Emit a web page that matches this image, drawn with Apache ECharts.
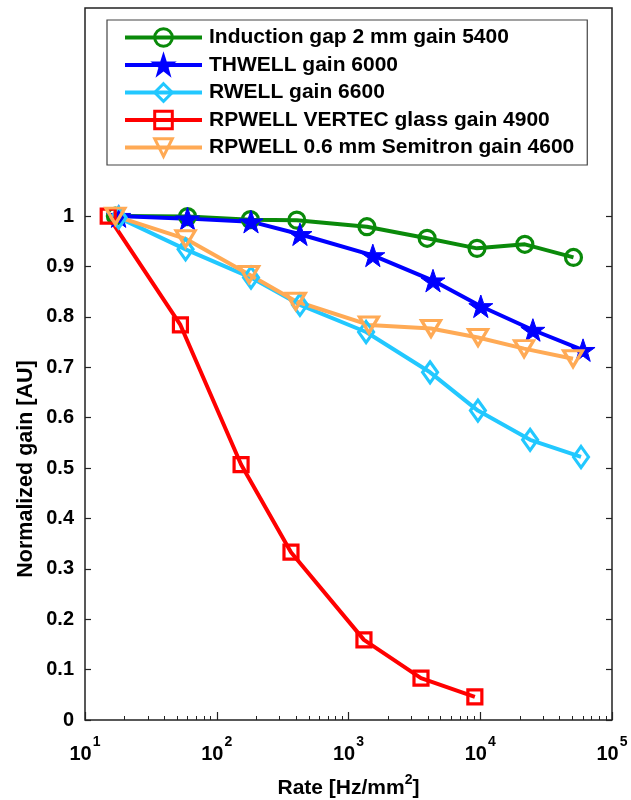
<!DOCTYPE html>
<html>
<head>
<meta charset="utf-8">
<script src="https://cdn.jsdelivr.net/npm/echarts@6/dist/echarts.min.js"></script>
<style>
html,body{margin:0;padding:0;background:#fff;}
#chart{width:631px;height:800px;}
</style>
</head>
<body>
<div id="chart"></div>
<script>
// ---- data ----
const seriesNames = [
  'Induction gap 2 mm gain 5400',
  'THWELL gain 6000',
  'RWELL gain 6600',
  'RPWELL VERTEC glass gain 4900',
  'RPWELL 0.6 mm Semitron gain 4600'
];
const rateInduction = [17, 60, 180, 405, 1380, 3950, 9450, 21800, 51000];
const gainInduction = [1.0, 0.999, 0.993, 0.992, 0.979, 0.956, 0.936, 0.944, 0.918];
const rateThwell = [18, 60, 182, 428, 1530, 4380, 10100, 25100, 60300];
const gainThwell = [1.0, 0.995, 0.989, 0.964, 0.922, 0.872, 0.821, 0.774, 0.734];
const rateRwell = [18, 58, 182, 428, 1360, 4160, 9600, 23900, 58200];
const gainRwell = [0.997, 0.934, 0.878, 0.824, 0.770, 0.690, 0.614, 0.556, 0.522];
const rateVertec = [15, 53, 153, 366, 1310, 3550, 9100];
const gainVertec = [1.0, 0.784, 0.507, 0.333, 0.159, 0.083, 0.046];
const rateSemitron = [17, 58, 176, 398, 1430, 4230, 9620, 21500, 50600];
const gainSemitron = [1.0, 0.955, 0.884, 0.831, 0.784, 0.777, 0.759, 0.737, 0.717];
const yTickValues = [0, 0.1, 0.2, 0.3, 0.4, 0.5, 0.6, 0.7, 0.8, 0.9, 1];
const xMinorTicks = [20,30,40,50,60,70,80,90,200,300,400,500,600,700,800,900,
  2000,3000,4000,5000,6000,7000,8000,9000,20000,30000,40000,50000,60000,70000,80000,90000];

const FONT = "'Liberation Sans', Arial, Helvetica, sans-serif";
const STAR = 'path://M50,0 L61.8,35.1 L98.9,35.1 L68.8,56.9 L79.4,91.9 L50,70.2 L20.6,91.9 L31.2,56.9 L1.1,35.1 L38.2,35.1 Z';

function pairs(xs, ys) { return xs.map((x, i) => [x, ys[i]]); }

const chart = echarts.init(document.getElementById('chart'), null, {renderer: 'canvas'});

function mk(name, xs, ys, color, symbol, size, filled, rotate) {
  return {
    name: name,
    type: 'line',
    data: pairs(xs, ys),
    symbol: symbol,
    symbolSize: size,
    symbolRotate: rotate || 0,
    symbolKeepAspect: true,
    showAllSymbol: true,
    lineStyle: {color: color, width: 4},
    itemStyle: filled
      ? {color: color, borderColor: color, borderWidth: 1}
      : {color: 'rgba(255,255,255,0)', borderColor: color, borderWidth: 3.2},
    emphasis: {disabled: true},
    z: 3
  };
}

const option = {
  animation: false,
  backgroundColor: '#fff',
  textStyle: {fontFamily: FONT},
  grid: {
    left: 85, right: 19, top: 8, bottom: 80,
    containLabel: false,
    outerBoundsMode: 'none',
    show: true, borderColor: '#222', borderWidth: 1.5, backgroundColor: 'rgba(0,0,0,0)'
  },
  legend: {
    orient: 'vertical',
    left: 107, top: 20,
    padding: [7, 13, 7, 16],
    itemWidth: 77, itemHeight: 22, itemGap: 6.5,
    backgroundColor: '#fff',
    borderColor: '#444', borderWidth: 1.2,
    selectedMode: false,
    lineStyle: {width: 4},
    itemStyle: {borderWidth: 3},
    textStyle: {fontSize: 21, fontWeight: 'bold', color: '#000', fontFamily: FONT, padding: [0, 0, 0, 2]},
    data: seriesNames
  },
  xAxis: [
    {
      type: 'log', logBase: 10, min: 10, max: 100000,
      position: 'bottom',
      axisLine: {show: false},
      axisTick: {show: true, inside: true, length: 8, lineStyle: {color: '#222', width: 1.2}},
      splitLine: {show: false},
      axisLabel: {
        margin: 22,
        formatter: function (v) {
          const e = Math.round(Math.log10(v));
          return '{b|10}{s|' + e + '}';
        },
        rich: {
          b: {fontSize: 20, fontWeight: 'bold', color: '#000', fontFamily: FONT, verticalAlign: 'bottom', lineHeight: 22},
          s: {fontSize: 14, fontWeight: 'bold', color: '#000', fontFamily: FONT, verticalAlign: 'bottom', lineHeight: 14, padding: [0, 0, 15, 1]}
        }
      },
      name: '{a|Rate [Hz/mm}{s|2}{a|]}',
      nameLocation: 'middle',
      nameGap: 55,
      nameTextStyle: {
        rich: {
          a: {fontSize: 21, fontWeight: 'bold', color: '#000', fontFamily: FONT, verticalAlign: 'bottom', lineHeight: 24},
          s: {fontSize: 14, fontWeight: 'bold', color: '#000', fontFamily: FONT, verticalAlign: 'bottom', lineHeight: 14, padding: [0, 0, 12, 0]}
        }
      }
    },
    {
      type: 'log', logBase: 10, min: 10, max: 100000,
      position: 'bottom',
      axisLine: {show: false},
      axisTick: {show: true, inside: true, length: 4, customValues: xMinorTicks, lineStyle: {color: '#222', width: 1}},
      axisLabel: {show: false},
      splitLine: {show: false}
    }
  ],
  yAxis: [
    {
      type: 'value', min: 0, max: 1.413,
      position: 'left',
      axisLine: {show: false},
      splitLine: {show: false},
      axisTick: {show: true, inside: true, length: 6, customValues: yTickValues, lineStyle: {color: '#222', width: 1.2}},
      axisLabel: {
        customValues: yTickValues,
        margin: 11,
        fontSize: 20, fontWeight: 'bold', color: '#000', fontFamily: FONT,
        formatter: function (v) { return v === 0 ? '0' : (v === 1 ? '1' : v.toFixed(1)); }
      }
    },
    {
      type: 'value', min: 0, max: 1.413,
      position: 'right',
      axisLine: {show: false},
      splitLine: {show: false},
      axisTick: {show: true, inside: true, length: 6, customValues: yTickValues, lineStyle: {color: '#222', width: 1.2}},
      axisLabel: {show: false}
    }
  ],
  graphic: [
    {
      type: 'text',
      x: 26, y: 469,
      rotation: Math.PI / 2,
      style: {
        text: 'Normalized gain [AU]',
        fontSize: 21.5, fontWeight: 'bold', fill: '#000', fontFamily: FONT,
        align: 'center', verticalAlign: 'middle'
      }
    }
  ],
  series: [
    mk(seriesNames[0], rateInduction, gainInduction, '#0a8a0a', 'circle', 16, false),
    mk(seriesNames[1], rateThwell, gainThwell, '#0000ff', STAR, 24, true),
    mk(seriesNames[2], rateRwell, gainRwell, '#22c8ff', 'diamond', [15, 21], false),
    mk(seriesNames[3], rateVertec, gainVertec, '#ff0000', 'rect', 14, false),
    mk(seriesNames[4], rateSemitron, gainSemitron, '#ffaa55', 'triangle', [19, 16], false, 180)
  ]
};
chart.setOption(option);
</script>
</body>
</html>
